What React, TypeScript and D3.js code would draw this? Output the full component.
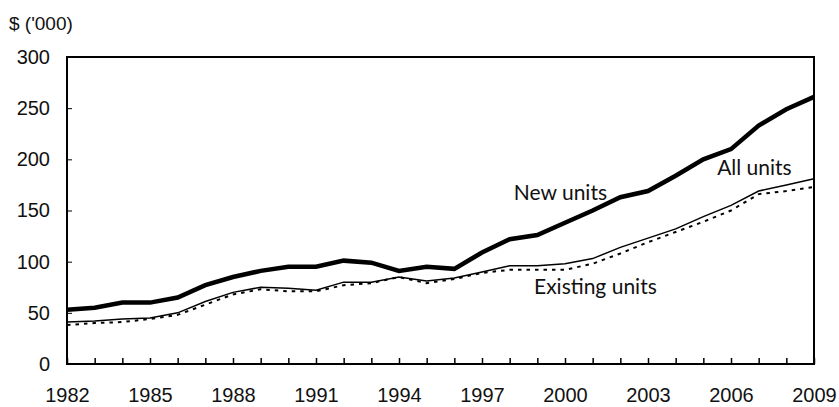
import React, { useEffect, useRef } from 'react';
import * as d3 from 'd3';

const years = d3.range(1982, 2010);
const newUnits = [53, 55, 60, 60, 65, 77, 85, 91, 95, 95, 101, 99, 91, 95, 93, 109, 122, 126, 138, 150, 163, 169, 184, 200, 210, 233, 249, 261];
const allUnits = [41, 42, 44, 45, 50, 61, 70, 75, 74, 72, 80, 80, 85, 81, 84, 90, 96, 96, 98, 103, 114, 123, 132, 144, 155, 169, 175, 181];
const existingUnits = [38, 40, 41, 44, 48, 58, 68, 73, 71, 71, 77, 79, 85, 79, 83, 89, 92, 92, 92, 98, 108, 119, 129, 139, 150, 166, 169, 173];
const yTicks = [0, 50, 100, 150, 200, 250, 300];
const xLabelYears = [1982, 1985, 1988, 1991, 1994, 1997, 2000, 2003, 2006, 2009];
const annotations = [
  { text: 'New units', year: 1998.15, value: 160 },
  { text: 'All units', year: 2005.5, value: 184.5 },
  { text: 'Existing units', year: 1998.88, value: 68.4 },
];

const App: React.FC = () => {
  const ref = useRef<SVGSVGElement | null>(null);

  useEffect(() => {
    if (!ref.current) return;
    const width = 839;
    const height = 407;
    const margin = { top: 57, right: 25, bottom: 43, left: 67 };
    const w = width - margin.left - margin.right;
    const h = height - margin.top - margin.bottom;

    const svg = d3.select(ref.current);
    svg.selectAll('*').remove();

    const x = d3.scaleLinear().domain([1982, 2009]).range([0, w]);
    const y = d3.scaleLinear().domain([0, 300]).range([h, 0]);

    const g = svg.append('g').attr('transform', `translate(${margin.left},${margin.top})`);

    // frame
    g.append('rect')
      .attr('width', w)
      .attr('height', h)
      .attr('fill', 'none')
      .attr('stroke', '#000')
      .attr('stroke-width', 2);

    // y axis ticks pointing inward
    const yAxis = g.append('g').call(
      d3.axisLeft<number>(y).tickValues(yTicks).tickSize(-5).tickPadding(17).tickFormat(d3.format('d'))
    );
    yAxis.select('.domain').remove();
    yAxis.selectAll('line').attr('stroke', '#000').attr('stroke-width', 1);
    yAxis.selectAll('text')
      .attr('font-family', '"Liberation Sans", Arial, sans-serif')
      .attr('font-size', 20)
      .attr('fill', '#111');

    // x axis: a tick each year, labels every third year
    const xAxis = g.append('g')
      .attr('transform', `translate(0,${h})`)
      .call(
        d3.axisBottom<number>(x)
          .tickValues(years)
          .tickSize(-6)
          .tickPadding(24)
          .tickFormat((d) => (xLabelYears.includes(d as number) ? String(d) : ''))
      );
    xAxis.select('.domain').remove();
    xAxis.selectAll('line').attr('stroke', '#000').attr('stroke-width', 1.5);
    xAxis.selectAll('text')
      .attr('font-family', '"Liberation Sans", Arial, sans-serif')
      .attr('font-size', 20)
      .attr('fill', '#111');

    const line = d3.line<number>()
      .x((_, i) => x(years[i]))
      .y((d) => y(d));

    g.append('path')
      .datum(existingUnits)
      .attr('d', line)
      .attr('fill', 'none')
      .attr('stroke', '#000')
      .attr('stroke-width', 2)
      .attr('stroke-dasharray', '3.5,5');

    g.append('path')
      .datum(allUnits)
      .attr('d', line)
      .attr('fill', 'none')
      .attr('stroke', '#000')
      .attr('stroke-width', 1.5);

    g.append('path')
      .datum(newUnits)
      .attr('d', line)
      .attr('fill', 'none')
      .attr('stroke', '#000')
      .attr('stroke-width', 4.5);

    g.selectAll('text.note')
      .data(annotations)
      .enter()
      .append('text')
      .attr('class', 'note')
      .attr('x', (d) => x(d.year))
      .attr('y', (d) => y(d.value))
      .attr('font-family', 'Lato, sans-serif')
      .attr('font-size', 21)
      .attr('fill', '#111')
      .text((d) => d.text);

    // unit label
    svg.append('text')
      .attr('x', 9)
      .attr('y', 30)
      .attr('font-family', '"Liberation Sans", Arial, sans-serif')
      .attr('font-size', 19)
      .attr('fill', '#111')
      .text("$ ('000)");
  }, []);

  return (
    <div style={{ position: 'absolute', left: 0, top: 0 }}>
      <svg ref={ref} width={839} height={407} style={{ display: 'block', background: '#fff' }} />
    </div>
  );
};

export default App;
